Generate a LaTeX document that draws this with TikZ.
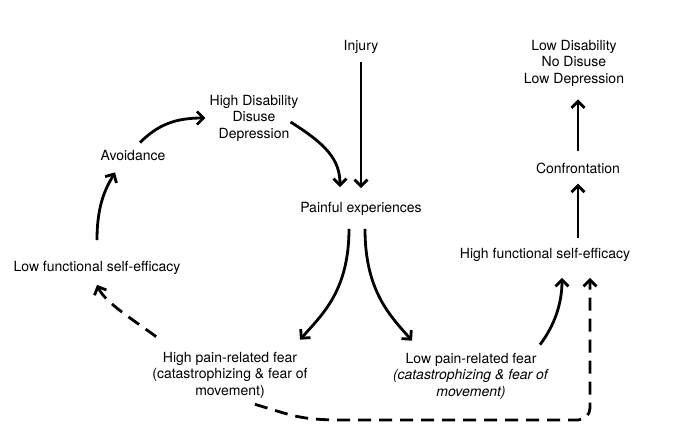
\documentclass[tikz,border=0pt]{standalone}
\usepackage{fontspec}
\setmainfont{TeX Gyre Heros}
\usetikzlibrary{arrows.meta}
\begin{document}
\begin{tikzpicture}[x=1pt,y=-1pt,
  lbl/.style={align=center,font=\fontsize{14}{16.5}\selectfont,inner sep=1pt},
  arr/.style={line width=2.8pt,-{Straight Barb[length=6.5pt,width=13pt,line width=2.8pt]}},
  darr/.style={arr,dash pattern=on 13pt off 8pt}]
\useasboundingbox (0,0) rectangle (685,435);
\fill[white] (0,0) rectangle (685,435);
\node[lbl] (inj) at (361,47) {Injury};
\node[lbl] (ld) at (574,63) {Low Disability\\No Disuse\\Low Depression};
\node[lbl] (hd) at (254,118) {High Disability\\Disuse\\Depression};
\node[lbl] (av) at (133,156) {Avoidance};
\node[lbl] (pain) at (361,209) {Painful experiences};
\node[lbl] (conf) at (578,168) {Confrontation};
\node[lbl] (hfs) at (545,255) {High functional self-efficacy};
\node[lbl] (low) at (97,268) {Low functional self-efficacy};
\node[lbl] (hpf) at (230,375) {High pain-related fear\\(catastrophizing \& fear of\\movement)};
\node[lbl] (lpf) at (471,376) {Low pain-related fear\\\textit{(catastrophizing \& fear of}\\\textit{movement)}};
% solid arrows
\draw[arr] ([yshift=-7pt]inj.south) -- ([yshift=13pt]pain.north);
\draw[arr] ([xshift=-9pt,yshift=-4pt]hd.east) .. controls +(35,22) and +(0,-28) .. ([xshift=-21pt,yshift=14pt]pain.north);
\draw[arr] ([xshift=7pt,yshift=7pt]av.north) .. controls +(18,-18) and +(-30,0) .. ([xshift=-3pt]hd.west);
\draw[arr] ([yshift=20pt]low.north) .. controls +(0,-38) and +(-8,14) .. ([xshift=-18pt,yshift=-10pt]av.south);
\draw[arr] ([xshift=-12pt,yshift=-12pt]pain.south) .. controls +(0,62) and +(22,-25) .. ([xshift=70pt,yshift=11pt]hpf.north);
\draw[arr] ([xshift=4pt,yshift=-12pt]pain.south) .. controls +(0,62) and +(-22,-25) .. ([xshift=-59pt,yshift=11pt]lpf.north);
\draw[arr] ([xshift=69pt,yshift=7pt]lpf.north) .. controls +(15,-20) and +(0,25) .. ([xshift=17pt,yshift=-15pt]hfs.south);
\draw[arr] ([yshift=9pt]hfs.north -| conf.south) -- ([yshift=-9pt]conf.south);
\draw[arr] ([yshift=10pt]conf.north) -- ([yshift=-12pt]ld.south -| conf.north);
% dashed arrows
\coordinate (b1) at (345,420);
\draw[darr] ([xshift=25pt,yshift=-5pt]hpf.south) .. controls +(40,12) and +(-45,0) .. (b1)
  [rounded corners=12pt] -| ([xshift=45pt,yshift=-15pt]hfs.south);
\draw[darr] ([xshift=5pt,yshift=14pt]hpf.north west) .. controls +(-20,-15) and +(8,18) .. ([yshift=-9pt]low.south);
\end{tikzpicture}
\end{document}
